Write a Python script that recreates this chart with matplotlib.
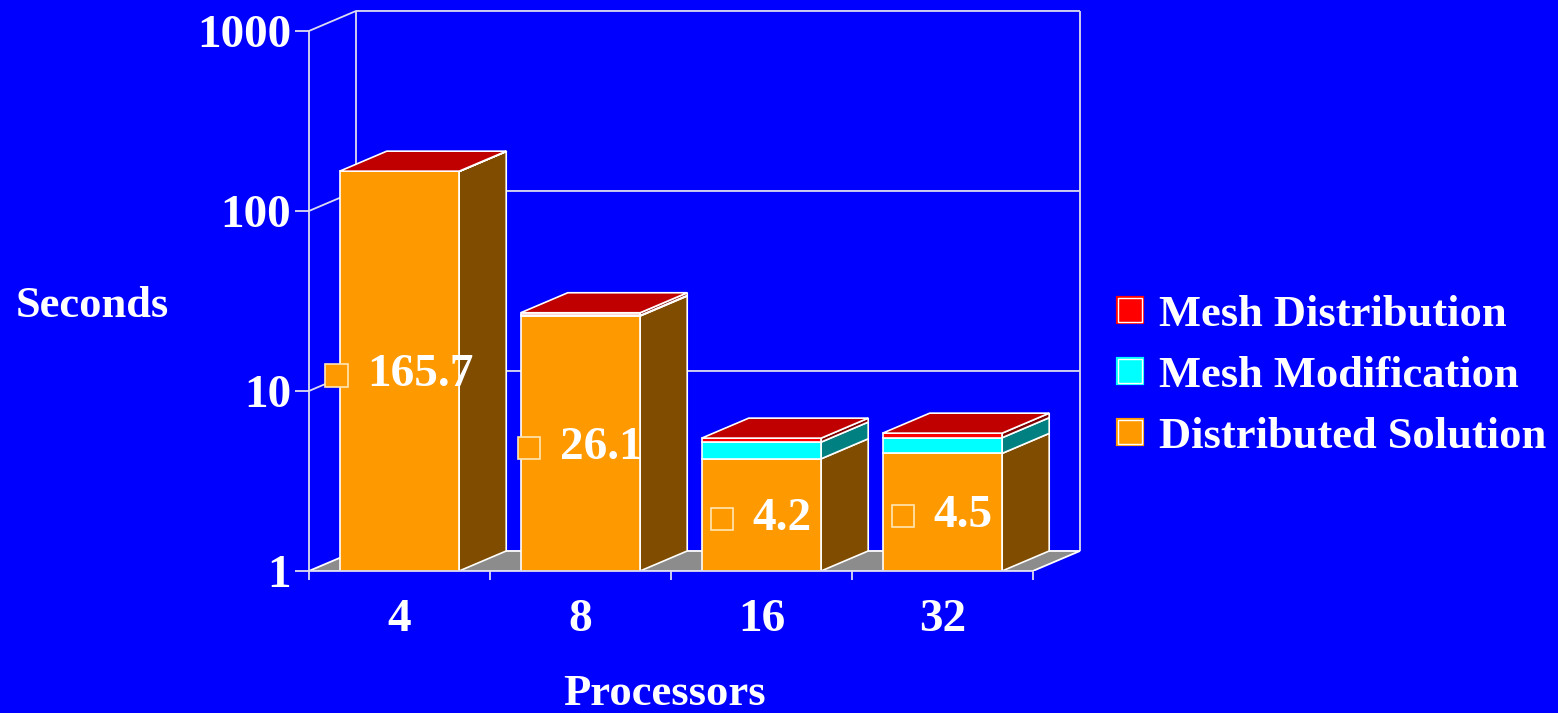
import matplotlib
matplotlib.use('Agg')
import numpy as np
import matplotlib.pyplot as plt
from matplotlib.patches import Polygon, Rectangle, Patch
from matplotlib.ticker import NullLocator
from matplotlib.offsetbox import AnnotationBbox, DrawingArea, HPacker, TextArea
from matplotlib.legend_handler import HandlerTuple

processors = ['4', '8', '16', '32']
dist_solution = [165.7, 26.1, 4.2, 4.5]
mesh_modification = [0.3, 0.2, 1.0, 1.0]
mesh_distribution = [0.4, 0.9, 0.27, 0.33]
series_names = ['Mesh Distribution', 'Mesh Modification', 'Distributed Solution']
y_ticks = [1, 10, 100, 1000]

BLUE = '#0000ff'
# solution, modification, distribution
front_cols = ['#ff9900', '#00ffff', '#ff0000']
side_cols = ['#7f4c00', '#008080', '#800000']
top_col = '#c00000'
WALL = '#dcdcf0'
FS_NUM = 34
FS_WORD = 32

plt.rcParams['font.family'] = ['Liberation Serif', 'DejaVu Serif']
plt.rcParams['font.weight'] = 'bold'

fig = plt.figure(figsize=(15.58, 7.13), dpi=100, facecolor=BLUE)
ax = fig.add_axes([0.1983, 0.1992, 0.4972, 0.7865])
ax.set_facecolor(BLUE)
ax.set_yscale('log')

# depth of the fake 3d box: x shift in category units, y shift as a factor
dx = 0.26
fy = 10 ** (20 / 180)
x0, x1 = -0.5, len(processors) - 0.5
ytop = y_ticks[-1]


def wall_line(xs, ys, z=1):
    ax.plot(xs, ys, color=WALL, lw=1.3, clip_on=False, zorder=z,
            solid_capstyle='butt')


# back wall, side wall grid and floor
for yv in y_ticks[1:]:
    wall_line([x0, x0 + dx, x1 + dx], [yv, yv * fy, yv * fy])
wall_line([x0 + dx, x0 + dx], [fy, ytop * fy])
wall_line([x1 + dx, x1 + dx], [fy, ytop * fy])
wall_line([x0, x0], [1, ytop])
ax.add_patch(Polygon([(x0, 1), (x1, 1), (x1 + dx, fy), (x0 + dx, fy)],
                     closed=True, fc='#8c8c8c', ec='white', lw=1.3, zorder=2))

# stacked bars: sides first, then front faces, then the top
w = 0.66
series = [dist_solution, mesh_modification, mesh_distribution]
xs = np.arange(len(processors))
bottoms = np.zeros(len(processors))
for vals, fc, sc in zip(series, front_cols, side_cols):
    vals = np.array(vals)
    tops = bottoms + vals
    for x, b, t in zip(xs, bottoms, tops):
        b = max(b, 1)
        xr = x + w / 2
        ax.add_patch(Polygon([(xr, b), (xr + dx, b * fy), (xr + dx, t * fy), (xr, t)],
                             closed=True, fc=sc, ec='white', lw=1.2, zorder=3))
    ax.bar(xs, vals, w, bottom=bottoms, color=fc, edgecolor='white', lw=1.2, zorder=4)
    bottoms = tops

for x, t in zip(xs, bottoms):
    xl, xr = x - w / 2, x + w / 2
    ax.add_patch(Polygon([(xl, t), (xr, t), (xr + dx, t * fy), (xl + dx, t * fy)],
                         closed=True, fc=top_col, ec='white', lw=1.2, zorder=4))

wall_line([x0, x1], [1, 1], z=5)

# value labels with a small key square
for x, v in zip(xs, dist_solution):
    da = DrawingArea(16, 16, 0, 0)
    da.add_artist(Rectangle((0, 0), 16, 16, fc='#ff9900', ec='#ffe6b3', lw=1.2))
    ta = TextArea(f'{v:g}', textprops=dict(color='white', fontsize=FS_NUM, fontweight='bold'))
    box = HPacker(children=[da, ta], align='center', pad=0, sep=14)
    ab = AnnotationBbox(box, (x, np.sqrt(v)), xybox=(0, -3), boxcoords='offset points',
                        frameon=False, box_alignment=(0.5, 0.5), pad=0, zorder=6)
    ax.add_artist(ab)

ax.set_xlim(x0, x1 + dx + 0.02)
ax.set_ylim(1, ytop * fy * 1.01)
for s in ax.spines.values():
    s.set_visible(False)

ax.set_yticks(y_ticks, [str(t) for t in y_ticks])
ax.yaxis.set_minor_locator(NullLocator())
ax.tick_params(axis='y', which='major', length=10, width=1.3, color=WALL, pad=3,
               labelsize=FS_NUM, labelcolor='white')
ax.set_xticks(xs, processors)
ax.set_xticks(np.arange(x0, x1 + 0.01, 1), minor=True)
ax.tick_params(axis='x', which='major', length=0, pad=20, labelsize=FS_NUM, labelcolor='white')
ax.tick_params(axis='x', which='minor', length=6.5, width=1.3, color=WALL)

fig.text(92 / 1558, 1 - 317 / 713, 'Seconds', ha='center', va='baseline',
         fontsize=FS_WORD, color='white')
fig.text(664 / 1558, 1 - 705 / 713, 'Processors', ha='center', va='baseline',
         fontsize=FS_WORD, color='white')

handles = [(Patch(fc=c, ec=c, lw=3), Patch(fc='none', ec='white', lw=1))
           for c in front_cols[::-1]]
leg = fig.legend(handles, series_names, handler_map={tuple: HandlerTuple(ndivide=1)},
                 loc='center left', bbox_to_anchor=(1118 / 1558, 1 - 376 / 713),
                 frameon=False, fontsize=FS_WORD, handlelength=0.54, handleheight=0.45,
                 handletextpad=0.38, labelspacing=0.47, borderpad=0, borderaxespad=0)
for t in leg.get_texts():
    t.set_color('white')

fig.savefig('out.png', dpi=100, facecolor=BLUE)
